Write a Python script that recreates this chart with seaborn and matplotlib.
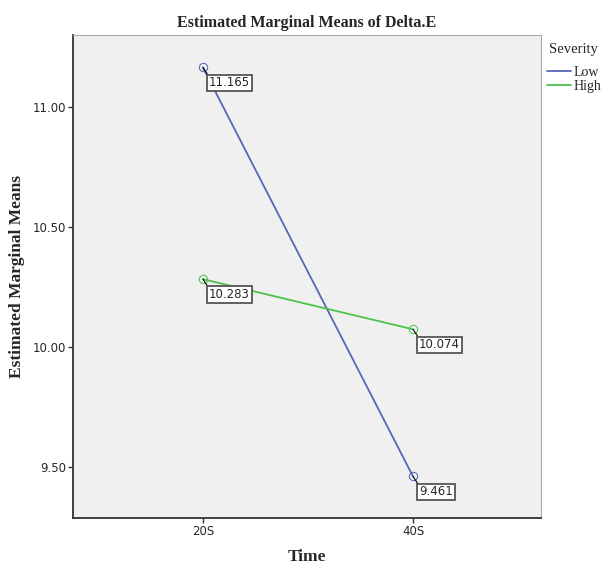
import pandas as pd
import matplotlib.pyplot as plt
import seaborn as sns

# estimated marginal means
time_levels = ["20S", "40S"]
severity_levels = ["Low", "High"]
low_means = [11.165, 9.461]
high_means = [10.283, 10.074]

df = pd.DataFrame({
    "Time": time_levels * 2,
    "Severity": ["Low"] * 2 + ["High"] * 2,
    "Mean": low_means + high_means,
})

sns.set_style("white")
plt.rcParams["font.family"] = ["DejaVu Sans"]
serif = ["Liberation Serif", "DejaVu Serif"]

fig = plt.figure(figsize=(6.02, 5.65), dpi=100)
ax = fig.add_axes([0.121, 0.083, 0.778, 0.855])
ax.set_facecolor("#f0f0f0")

palette = {"Low": "#5468b8", "High": "#4cc44c"}
sns.lineplot(data=df, x="Time", y="Mean", hue="Severity", hue_order=severity_levels,
             palette=palette, marker="o", markersize=6, markerfacecolor="none",
             linewidth=1.3, ax=ax, legend=True)
for line in ax.lines:
    line.set_markeredgecolor(line.get_color())
    line.set_markerfacecolor("none")

# value labels in boxes, with a short leader to the point
for i, t in enumerate(time_levels):
    for vals in (low_means, high_means):
        ax.annotate(f"{vals[i]:.3f}", xy=(i, vals[i]), xytext=(6, -9),
                    textcoords="offset pixels", ha="left", va="top", fontsize=8.5,
                    bbox=dict(boxstyle="square,pad=0.15", fc="white", ec="#555555", lw=1.3),
                    arrowprops=dict(arrowstyle="-", color="black", lw=0.8,
                                    shrinkA=0, shrinkB=0, relpos=(0, 1)))

ax.set_xlim(-0.619, 1.61)
ax.set_ylim(9.2875, 11.30)
ax.set_yticks([9.5, 10.0, 10.5, 11.0])
ax.set_yticklabels(["9.50", "10.00", "10.50", "11.00"])
ax.tick_params(axis="both", direction="out", length=3.6, width=1, labelsize=8.5,
               color="#333333", pad=1.5)
ax.tick_params(left=True, bottom=True)

for side in ["left", "bottom"]:
    ax.spines[side].set_color("#333333")
    ax.spines[side].set_linewidth(1.3)
for side in ["top", "right"]:
    ax.spines[side].set_color("#aaaaaa")
    ax.spines[side].set_linewidth(0.8)

ax.set_title("Estimated Marginal Means of Delta.E", family=serif, fontweight="bold",
             fontsize=11.5, pad=6)
ax.set_xlabel("Time", family=serif, fontweight="bold", fontsize=12.5, labelpad=8)
ax.set_ylabel("Estimated Marginal Means", family=serif, fontweight="bold", fontsize=12.5,
              labelpad=5)

# legend title sits apart from the entries
fig.text(549 / 602, 1 - 49 / 565, "Severity", family=serif, fontsize=10.5,
         ha="left", va="center")
leg = ax.legend(loc="upper left", bbox_to_anchor=(547 / 602, 1 - 66 / 565),
                bbox_transform=fig.transFigure, frameon=False, handlelength=1.7,
                handletextpad=0.2, borderaxespad=0, borderpad=0, labelspacing=0.08,
                prop={"family": serif, "size": 10})
for h in leg.get_lines():
    h.set_marker("")

plt.savefig("out.png", dpi=100)
